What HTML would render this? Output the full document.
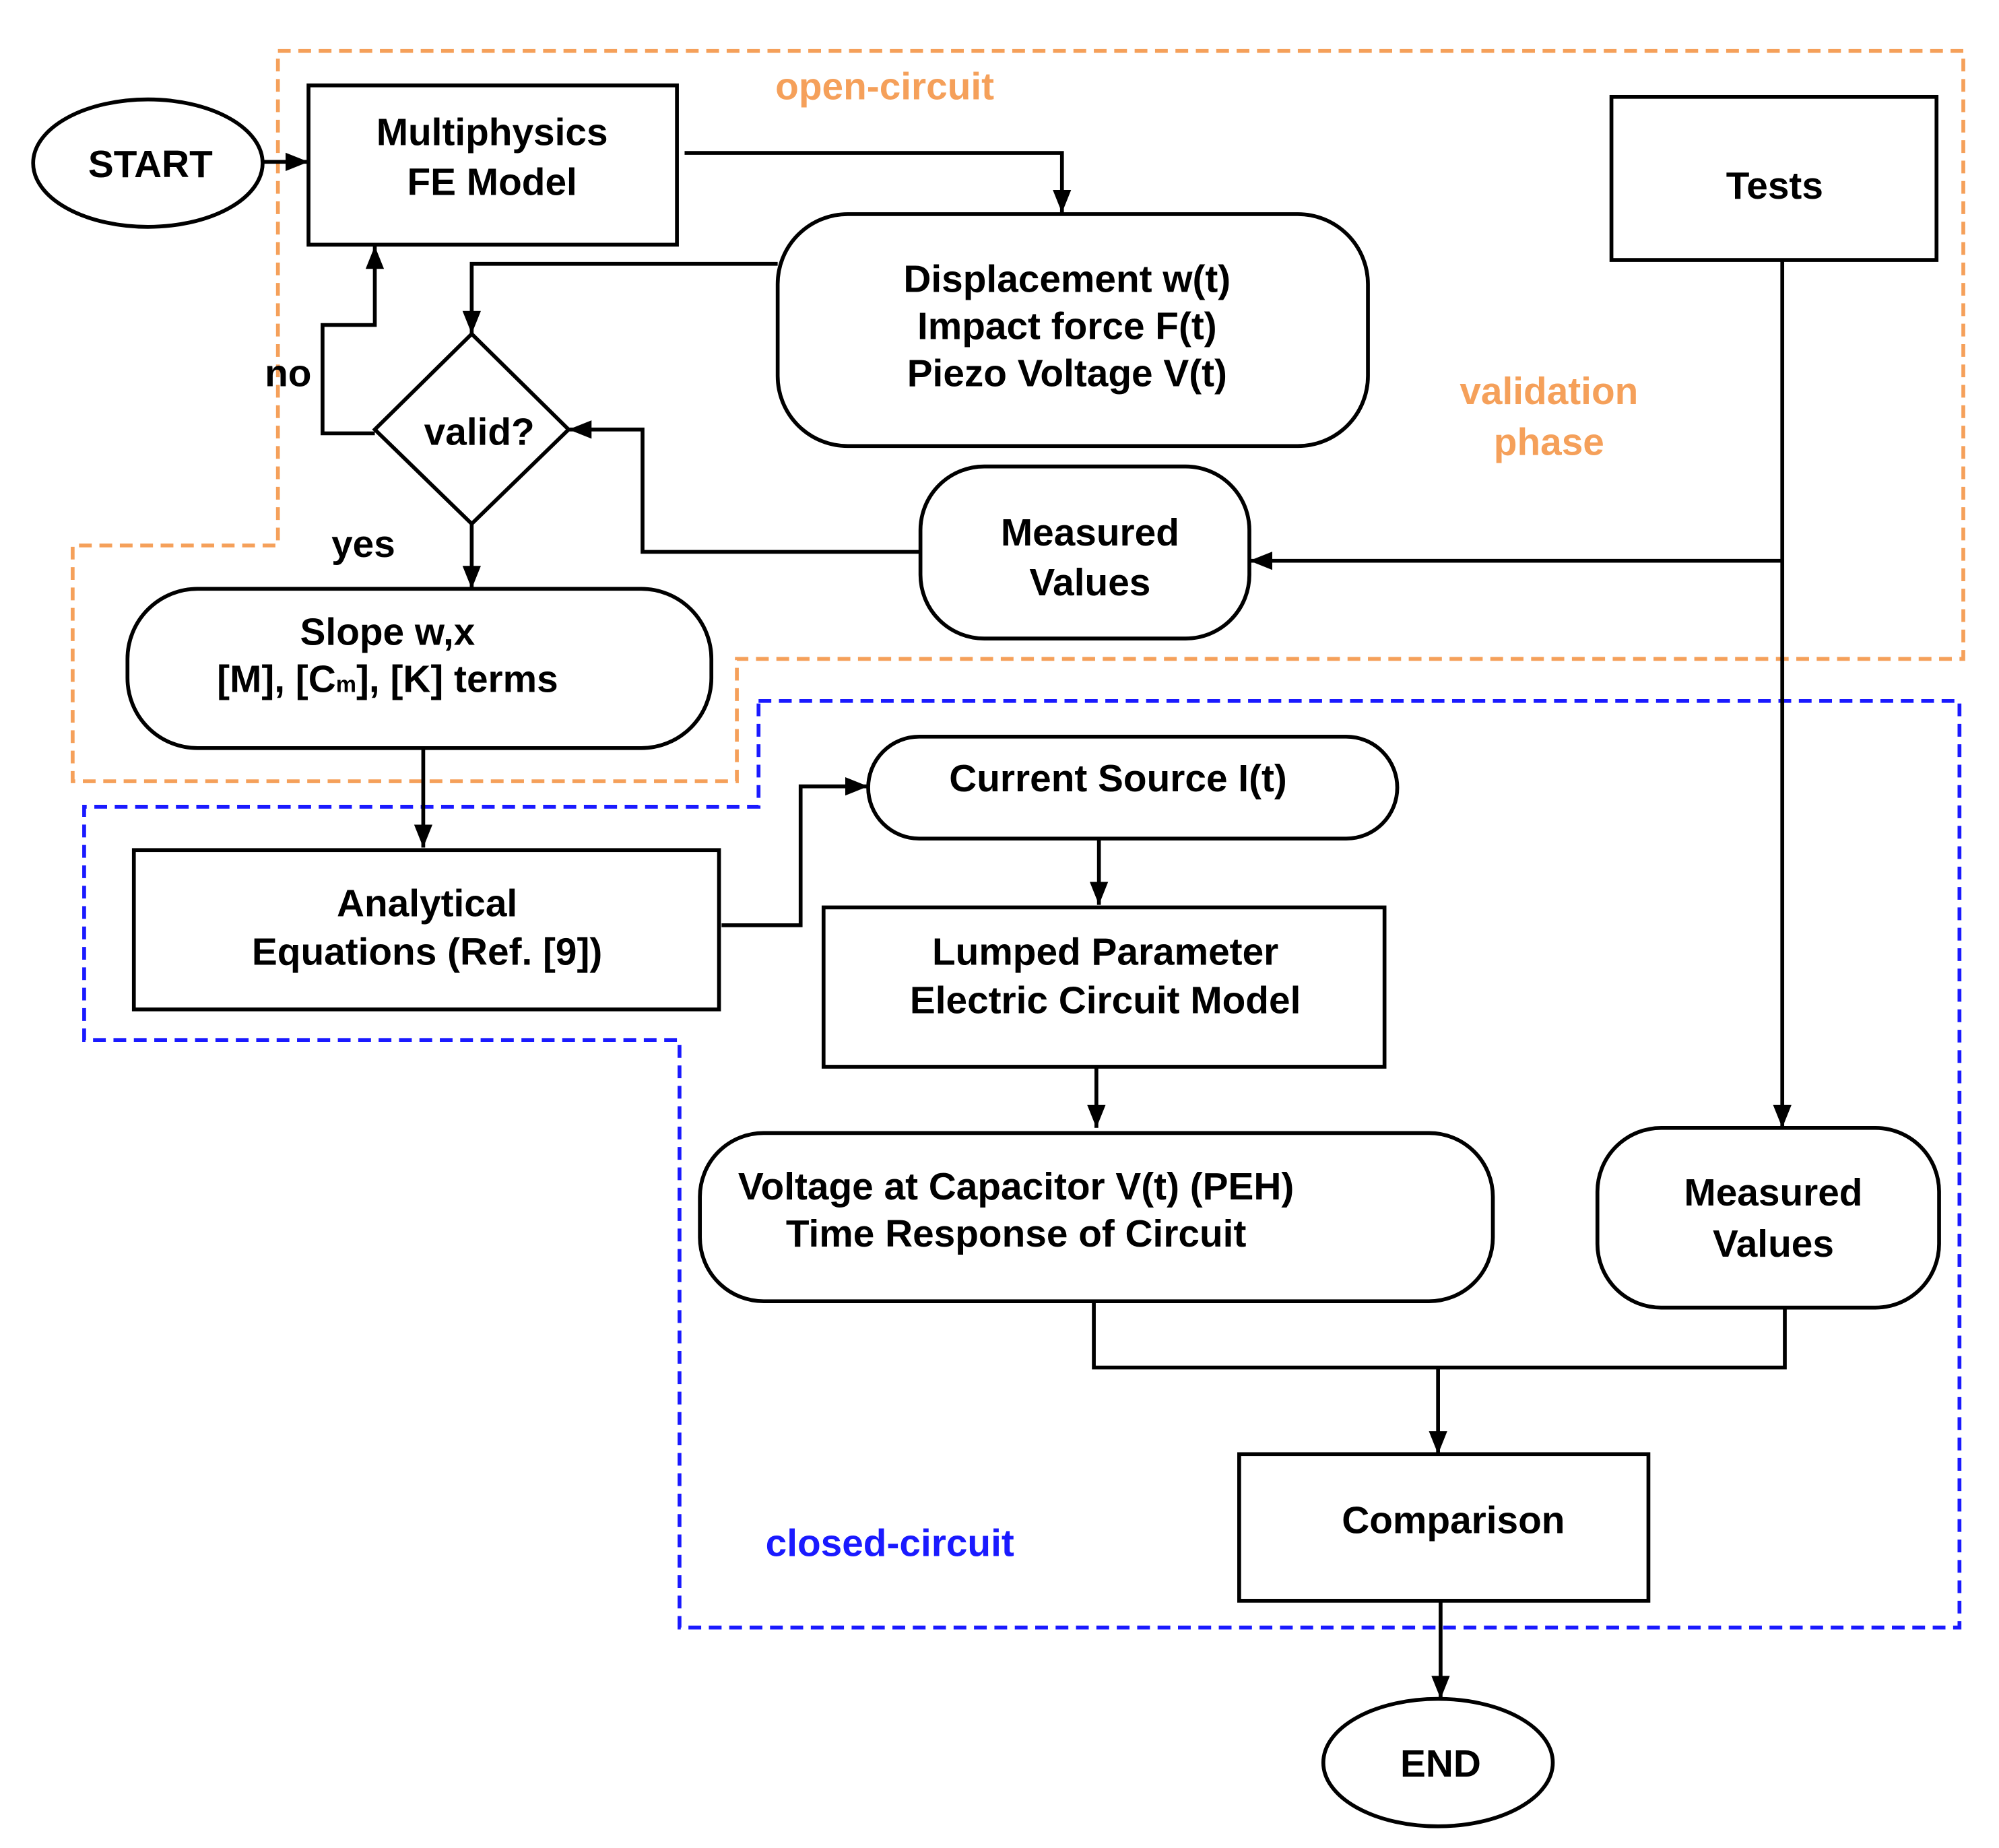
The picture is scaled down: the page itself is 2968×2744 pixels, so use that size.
<!DOCTYPE html>
<html><head><meta charset="utf-8"><style>html,body{margin:0;padding:0;background:#fff}svg{display:block}</style></head>
<body>
<svg width="2968" height="2744" viewBox="0 0 1568 1450" preserveAspectRatio="none" xmlns="http://www.w3.org/2000/svg">
<defs>
<marker id="b" viewBox="0 0 10 10" refX="10" refY="5" markerWidth="18" markerHeight="18" orient="auto" markerUnits="userSpaceOnUse"><path d="M0,1L10,5L0,9z" fill="#000"/></marker></defs>
<rect width="1568" height="1450" fill="#fff"/>
<g fill="none" stroke-width="3" stroke-dasharray="10,6">
<path d="M218,40H1540V517H578V613H57V428H218Z" stroke="#f5a05a"/>
<path d="M595,550H1537V1277H533V816H66V633H595Z" stroke="#1a1aff"/>
</g>
<g fill="#fff" stroke="#000" stroke-width="3">
<ellipse cx="116" cy="128" rx="90" ry="50"/>
<rect x="242" y="67" width="289" height="125"/>
<rect x="610" y="168" width="463" height="182" rx="55"/>
<path d="M370,262L446,337L370,411L294,337Z"/>
<rect x="100" y="462" width="458" height="125" rx="55"/>
<rect x="722" y="366" width="258" height="135" rx="50"/>
<rect x="1264" y="76" width="255" height="128"/>
<rect x="105" y="667" width="459" height="125"/>
<rect x="681" y="578" width="415" height="80" rx="40"/>
<rect x="646" y="712" width="440" height="125"/>
<rect x="549" y="889" width="622" height="132" rx="50"/>
<rect x="1253" y="885" width="268" height="141" rx="50"/>
<rect x="972" y="1141" width="321" height="115"/>
<ellipse cx="1128" cy="1383" rx="90" ry="50"/>
</g>
<g fill="none" stroke="#000" stroke-width="3" marker-end="url(#b)">
<path d="M206,127H242"/>
<path d="M537,120H833V167"/>
<path d="M610,207H370V262"/>
<path d="M294,340H253V255H294V193"/>
<path d="M370,411V462"/>
<path d="M722,433H504V337H446"/>
<path d="M1398,204V885"/>
<path d="M1398,440H980"/>
<path d="M332,587V665"/>
<path d="M566,726H628V617H681"/>
<path d="M862,658V710"/>
<path d="M860,837V885"/>
<path d="M1128,1073V1141"/>
<path d="M1130,1256V1333"/>
</g>
<path d="M858,1021V1073H1400V1026" fill="none" stroke="#000" stroke-width="3"/>
<g font-family="Liberation Sans, sans-serif" font-weight="bold" font-size="30" text-anchor="middle" fill="#000">
<text x="118" y="139">START</text>
<text x="386" y="114">Multiphysics</text>
<text x="386" y="153">FE Model</text>
<text x="837" y="229">Displacement w(t)</text>
<text x="837" y="266">Impact force F(t)</text>
<text x="837" y="303">Piezo Voltage V(t)</text>
<text x="376" y="349">valid?</text>
<text x="226" y="303">no</text>
<text x="285" y="437">yes</text>
<text x="304" y="506">Slope w,x</text>
<text x="304" y="543">[M], [C<tspan font-size="18">m</tspan>], [K] terms</text>
<text x="855" y="428">Measured</text>
<text x="855" y="467">Values</text>
<text x="1392" y="156">Tests</text>
<text x="335" y="719">Analytical</text>
<text x="335" y="757">Equations (Ref. [9])</text>
<text x="877" y="621">Current Source I(t)</text>
<text x="867" y="757">Lumped Parameter</text>
<text x="867" y="795">Electric Circuit Model</text>
<text x="797" y="941">Voltage at Capacitor V(t) (PEH)</text>
<text x="797" y="978">Time Response of Circuit</text>
<text x="1391" y="946">Measured</text>
<text x="1391" y="986">Values</text>
<text x="1140" y="1203">Comparison</text>
<text x="1130" y="1394">END</text>
<g fill="#f5a05a"><text x="694" y="78">open-circuit</text><text x="1215" y="317">validation</text><text x="1215" y="357">phase</text></g>
<text x="698" y="1221" fill="#1a1aff">closed-circuit</text>
</g>
</svg>
</body></html>
